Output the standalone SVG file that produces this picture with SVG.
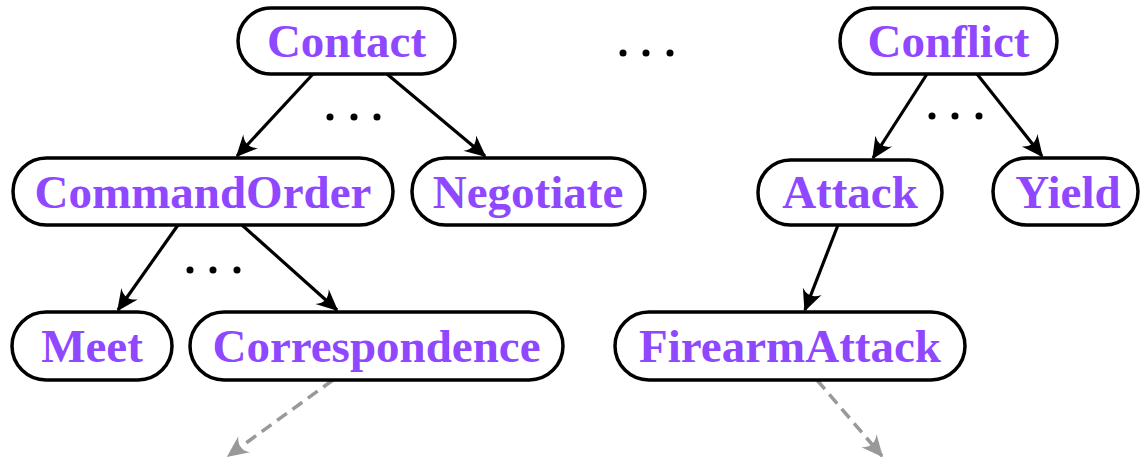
<svg xmlns="http://www.w3.org/2000/svg" width="1140" height="460" viewBox="0 0 1140 460">
<style>
.box{fill:#fff;stroke:#000;stroke-width:3.5}
.lbl{font-family:"Liberation Serif","Times New Roman",serif;font-weight:bold;font-size:47px;fill:#8f47ff;text-anchor:middle}
.edge{stroke:#000;stroke-width:3.2;fill:none;marker-end:url(#ah)}
.dash{stroke:#999;stroke-width:3.5;fill:none;stroke-dasharray:12 7;marker-end:url(#ahg)}
.dot{fill:#000}
</style>
<defs>
<marker id="ah" viewBox="-22 -12 24 24" refX="0" refY="0" markerWidth="24" markerHeight="24" markerUnits="userSpaceOnUse" orient="auto">
<path d="M1.5,0 L-20,-10 Q-11,0 -20,10 Z" fill="#000"/>
</marker>
<marker id="ahg" viewBox="-22 -12 24 24" refX="0" refY="0" markerWidth="24" markerHeight="24" markerUnits="userSpaceOnUse" orient="auto">
<path d="M1.5,0 L-20,-10 Q-11,0 -20,10 Z" fill="#999"/>
</marker>
</defs>
<g id="connectors">
<line class="edge" x1="313" y1="74" x2="237" y2="156"/>
<line class="edge" x1="387" y1="74" x2="485" y2="156"/>
<line class="edge" x1="178" y1="225" x2="118" y2="310"/>
<line class="edge" x1="242" y1="225" x2="337" y2="310"/>
<line class="edge" x1="927" y1="74" x2="873" y2="158"/>
<line class="edge" x1="977" y1="74" x2="1042" y2="156"/>
<line class="edge" x1="838" y1="225" x2="805" y2="310"/>
<line class="dash" x1="333" y1="380" x2="228" y2="456"/>
<line class="dash" x1="817" y1="380" x2="882" y2="456"/>
</g>
<g id="dots">
<circle class="dot" cx="330" cy="117" r="3.5"/><circle class="dot" cx="354" cy="117" r="3.5"/><circle class="dot" cx="377" cy="117" r="3.5"/>
<circle class="dot" cx="190" cy="270" r="3.5"/><circle class="dot" cx="213" cy="270" r="3.5"/><circle class="dot" cx="237" cy="270" r="3.5"/>
<circle class="dot" cx="623" cy="53" r="3.5"/><circle class="dot" cx="646" cy="53" r="3.5"/><circle class="dot" cx="670" cy="53" r="3.5"/>
<circle class="dot" cx="932" cy="116" r="3.5"/><circle class="dot" cx="955" cy="116" r="3.5"/><circle class="dot" cx="979" cy="116" r="3.5"/>
</g>
<g id="contact"><rect class="box" x="238" y="8" width="217" height="66" rx="33"/><text class="lbl" x="346.5" y="57">Contact</text></g>
<g id="conflict"><rect class="box" x="840" y="8" width="217" height="66" rx="33"/><text class="lbl" x="948.5" y="57">Conflict</text></g>
<g id="commandorder"><rect class="box" x="13" y="158" width="380" height="67" rx="33.5"/><text class="lbl" x="203" y="208">CommandOrder</text></g>
<g id="negotiate"><rect class="box" x="412" y="158" width="233" height="67" rx="33.5"/><text class="lbl" x="528" y="208">Negotiate</text></g>
<g id="attack"><rect class="box" x="758" y="160" width="184" height="65" rx="32.5"/><text class="lbl" x="850" y="208">Attack</text></g>
<g id="yield"><rect class="box" x="993" y="158" width="145" height="67" rx="33.5"/><text class="lbl" x="1068" y="208">Yield</text></g>
<g id="meet"><rect class="box" x="12" y="312" width="160" height="68" rx="34"/><text class="lbl" x="92" y="362">Meet</text></g>
<g id="correspondence"><rect class="box" x="190" y="312" width="373" height="68" rx="34"/><text class="lbl" x="376.5" y="362">Correspondence</text></g>
<g id="firearmattack"><rect class="box" x="615" y="312" width="350" height="68" rx="34"/><text class="lbl" x="790" y="362">FirearmAttack</text></g>
</svg>
